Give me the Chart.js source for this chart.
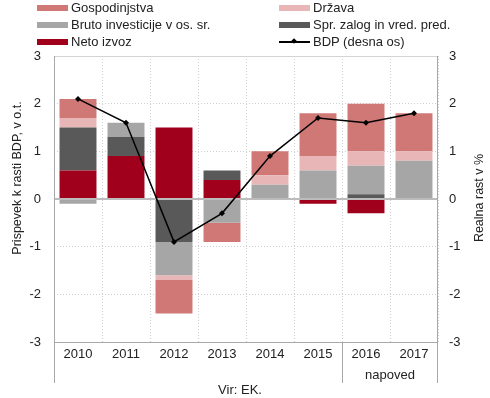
<!DOCTYPE html>
<html>
<head>
<meta charset="utf-8">
<script src="https://cdn.jsdelivr.net/npm/chart.js@4"></script>
<style>
  body { margin: 0; background: #fff; font-family: "Liberation Sans", Arial, sans-serif; }
  #wrap { position: relative; width: 490px; height: 398px; }
  #legend { position: absolute; left: 0; top: 0; width: 490px; height: 52px; }
  .item { position: absolute; height: 15px; font-size: 13px; line-height: 15px; color: #222; white-space: nowrap; }
  .sw { position: absolute; left: 0; top: 5px; width: 31px; height: 6px; }
  .txt { position: absolute; left: 34px; top: 0; }
</style>
</head>
<body>
<div id="wrap">
  <canvas id="chart" width="490" height="398"></canvas>
  <div id="legend"></div>
</div>
<script>
const labels = ['2010', '2011', '2012', '2013', '2014', '2015', '2016', '2017'];
const gospodinjstva = [0.4, 0, -0.7, -0.4, 0.5, 0.9, 1.0, 0.8];
const drzava = [0.2, 0, -0.1, 0, 0.2, 0.3, 0.3, 0.2];
const brutoInvesticije = [-0.1, 0.3, -0.7, -0.5, 0.3, 0.6, 0.6, 0.8];
const sprZalog = [0.9, 0.4, -0.9, 0.2, 0, 0, 0.1, 0];
const netoIzvoz = [0.6, 0.9, 1.5, 0.4, 0, -0.1, -0.3, 0];
const bdp = [2.1, 1.6, -0.9, -0.3, 0.9, 1.7, 1.6, 1.8];
const yTicks = [-3, -2, -1, 0, 1, 2, 3];

const colors = {
  gosp: '#d07876',
  drzava: '#e8b6b6',
  bruto: '#a6a6a6',
  zalog: '#595959',
  neto: '#a0001c'
};

// legend, 2 columns x 3 rows like the original
const legendItems = [
  { label: 'Gospodinjstva', color: colors.gosp, col: 0, row: 0 },
  { label: 'Država', color: colors.drzava, col: 1, row: 0 },
  { label: 'Bruto investicije v os. sr.', color: colors.bruto, col: 0, row: 1 },
  { label: 'Spr. zalog in vred. pred.', color: colors.zalog, col: 1, row: 1 },
  { label: 'Neto izvoz', color: colors.neto, col: 0, row: 2 },
  { label: 'BDP (desna os)', line: true, col: 1, row: 2 }
];
const legendEl = document.getElementById('legend');
legendItems.forEach(it => {
  const d = document.createElement('div');
  d.className = 'item';
  d.style.left = (it.col === 0 ? 37 : 279) + 'px';
  d.style.top = (0 + it.row * 17) + 'px';
  if (it.line) {
    d.innerHTML = '<div style="position:absolute;left:0;top:7px;width:31px;height:1.5px;background:#000"></div>' +
      '<div style="position:absolute;left:13px;top:5px;width:4px;height:4px;background:#000;transform:rotate(45deg)"></div>';
  } else {
    d.innerHTML = '<div class="sw" style="background:' + it.color + '"></div>';
  }
  d.innerHTML += '<div class="txt">' + it.label + '</div>';
  legendEl.appendChild(d);
});

const decor = {
  id: 'decor',
  afterDatasetDraw(chart, args) {
    if (args.index !== 1) return;
    const { ctx, chartArea: a, scales: { y } } = chart;
    const y0 = y.getPixelForValue(0);
    ctx.save();
    ctx.strokeStyle = '#bcbcbc';
    ctx.lineWidth = 2;
    ctx.beginPath();
    ctx.moveTo(a.left, y0);
    ctx.lineTo(a.right, y0);
    ctx.stroke();
    ctx.restore();
  },
  afterDraw(chart) {
    const { ctx, chartArea: a, scales: { x } } = chart;
    ctx.save();
    // frame
    ctx.lineWidth = 1;
    ctx.strokeStyle = '#d4d4d4';
    ctx.beginPath();
    ctx.moveTo(a.left, a.top + 0.5);
    ctx.lineTo(a.right, a.top + 0.5);
    ctx.stroke();
    ctx.strokeStyle = '#a8a8a8';
    const sep = (x.getPixelForValue(5) + x.getPixelForValue(6)) / 2;
    ctx.beginPath();
    ctx.moveTo(a.left + 0.5, a.top);
    ctx.lineTo(a.left + 0.5, 383);
    ctx.moveTo(a.right - 0.5, a.top);
    ctx.lineTo(a.right - 0.5, 383);
    ctx.moveTo(Math.round(sep) + 0.5, a.bottom);
    ctx.lineTo(Math.round(sep) + 0.5, 383);
    ctx.moveTo(a.left, a.bottom + 0.5);
    ctx.lineTo(a.right, a.bottom + 0.5);
    ctx.stroke();

    ctx.fillStyle = '#222';
    ctx.textAlign = 'center';
    ctx.textBaseline = 'middle';
    ctx.font = '13px "Liberation Sans", Arial, sans-serif';
    ctx.fillText('napoved', (x.getPixelForValue(6) + x.getPixelForValue(7)) / 2, 375);
    ctx.fillText('Vir: EK.', 240, 390);

    ctx.font = '12.5px "Liberation Sans", Arial, sans-serif';
    ctx.translate(18, 178);
    ctx.rotate(-Math.PI / 2);
    ctx.fillText('Prispevek k rasti BDP, v o.t.', 0, 0);
    ctx.setTransform(1, 0, 0, 1, 0, 0);
    ctx.translate(480, 198);
    ctx.rotate(-Math.PI / 2);
    ctx.fillText('Realna rast v %', 0, 0);
    ctx.restore();
  }
};

const tickFont = { family: '"Liberation Sans", Arial, sans-serif', size: 13 };

new Chart(document.getElementById('chart'), {
  type: 'bar',
  data: {
    labels: labels,
    datasets: [
      { type: 'line', label: 'BDP (desna os)', data: bdp, yAxisID: 'y1',
        borderColor: '#000', borderWidth: 1.5, tension: 0,
        pointStyle: 'rectRot', pointRadius: 3, pointBackgroundColor: '#000', pointBorderWidth: 0 },
      { label: 'Neto izvoz', data: netoIzvoz, backgroundColor: colors.neto },
      { label: 'Spr. zalog in vred. pred.', data: sprZalog, backgroundColor: colors.zalog },
      { label: 'Bruto investicije v os. sr.', data: brutoInvesticije, backgroundColor: colors.bruto },
      { label: 'Država', data: drzava, backgroundColor: colors.drzava },
      { label: 'Gospodinjstva', data: gospodinjstva, backgroundColor: colors.gosp }
    ]
  },
  options: {
    responsive: false,
    animation: false,
    datasets: { bar: { categoryPercentage: 1, barPercentage: 0.77, borderWidth: 0 } },
    layout: { padding: { top: 56, left: 0, right: 0, bottom: 0 } },
    plugins: { legend: { display: false }, tooltip: { enabled: false } },
    scales: {
      x: {
        stacked: true,
        grid: { offset: true, color: '#cfcfcf', drawTicks: false },
        border: { display: false, dash: [1, 2] },
        ticks: { color: '#222', font: tickFont, padding: 5 },
        afterFit(scale) { scale.height = 56; }
      },
      y: {
        stacked: true,
        min: -3, max: 3,
        afterBuildTicks(scale) { scale.ticks = yTicks.map(v => ({ value: v })); },
        grid: {
          drawTicks: false,
          color: c => (c.tick && (c.tick.value === 0 || c.tick.value === 3 || c.tick.value === -3)) ? 'rgba(0,0,0,0)' : '#cfcfcf'
        },
        border: { display: false, dash: [1, 2] },
        ticks: { color: '#222', font: tickFont, padding: 13 },
        afterFit(scale) { scale.width = 54; }
      },
      y1: {
        position: 'right',
        min: -3, max: 3,
        afterBuildTicks(scale) { scale.ticks = yTicks.map(v => ({ value: v })); },
        grid: { display: false, drawTicks: false },
        border: { display: false },
        ticks: { color: '#222', font: tickFont, padding: 11 },
        afterFit(scale) { scale.width = 52; }
      }
    }
  },
  plugins: [decor]
});
</script>
</body>
</html>
